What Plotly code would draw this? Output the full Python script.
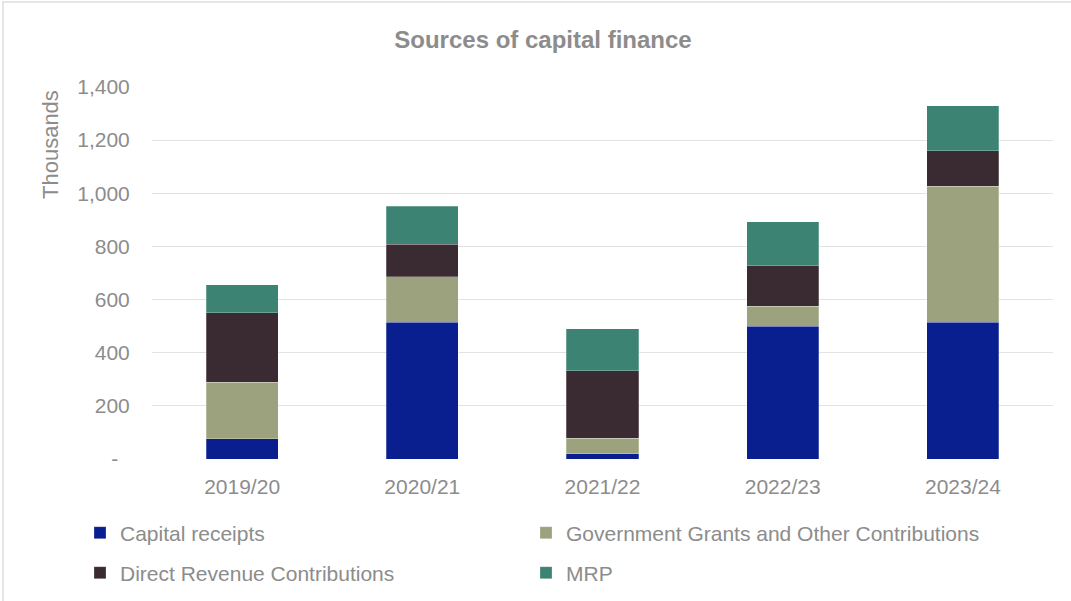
import plotly.graph_objects as go

years = ["2019/20", "2020/21", "2021/22", "2022/23", "2023/24"]
capital_receipts = [77, 515, 19, 500, 515]
government_grants = [211, 171, 60, 75, 511]
direct_revenue = [263, 122, 254, 152, 134]
mrp = [105, 144, 158, 165, 169]

series_names = ["Capital receipts", "Government Grants and Other Contributions",
                "Direct Revenue Contributions", "MRP"]
series_values = [capital_receipts, government_grants, direct_revenue, mrp]
colors = ["#0A1F8F", "#9CA27E", "#3A2A31", "#3D8373"]
legend_ids = ["legend", "legend2", "legend3", "legend4"]
legend_pos = [(80, 533), (526, 533), (80, 573), (526, 573)]

tick_vals = [0, 200, 400, 600, 800, 1000, 1200, 1400]
tick_text = ["-\u00a0\u00a0", "200", "400", "600", "800", "1,000", "1,200", "1,400"]

W, H = 1071, 601
L, R, T, B = 152, 18, 87, 142
PW, PH = W - L - R, H - T - B

def px(x):
    return (x - L) / PW

def py(y):
    return (H - B - y) / PH

FONT = "Liberation Sans"
GREY = "#8c8c8c"

fig = go.Figure()
for name, vals, col, lg in zip(series_names, series_values, colors, legend_ids):
    fig.add_trace(go.Bar(
        x=years, y=vals, name=name, legend=lg,
        marker=dict(color=col, line=dict(color="rgba(255,255,255,0.5)", width=0.5)),
    ))

legends = {}
for lg, (lx, ly) in zip(legend_ids, legend_pos):
    legends[lg] = dict(
        x=px(lx), y=py(ly),
        orientation="h", xanchor="left", yanchor="middle",
        font=dict(family=FONT, size=21, color=GREY),
        bgcolor="rgba(0,0,0,0)", itemclick=False,
    )

fig.update_layout(
    width=W, height=H,
    margin=dict(l=L, r=R, t=T, b=B, autoexpand=False),
    paper_bgcolor="white", plot_bgcolor="white",
    barmode="stack", bargap=0.6,
    showlegend=True,
    title=dict(text="<b>Sources of capital finance</b>", x=px(543), xref="paper",
               xanchor="center", y=1 - 40 / H, yanchor="middle",
               font=dict(family=FONT, size=24, color=GREY)),
    xaxis=dict(showgrid=False, showline=False, zeroline=False,
               ticks="outside", ticklen=9, tickcolor="rgba(0,0,0,0)",
               tickfont=dict(family=FONT, size=21, color=GREY)),
    yaxis=dict(range=[0, 1400], tickvals=tick_vals, ticktext=tick_text,
               showgrid=True, gridcolor="#e3e3e3", gridwidth=1,
               zeroline=False, showline=False,
               ticks="outside", ticklen=17, tickcolor="rgba(0,0,0,0)",
               tickfont=dict(family=FONT, size=21, color=GREY)),
    annotations=[dict(text="Thousands", textangle=-90, xref="paper", yref="paper",
                      x=px(50), y=py(145), xanchor="center", yanchor="middle",
                      showarrow=False, font=dict(family=FONT, size=22, color=GREY))],
    shapes=[dict(type="rect", xref="paper", yref="paper",
                 x0=px(3), x1=px(1085), y0=py(615), y1=py(2),
                 line=dict(color="#dedede", width=1.5), layer="below")],
    **legends,
)

fig.write_html("out.html", config={"displayModeBar": False},
               post_script="document.body.style.margin='0';document.body.style.overflow='hidden';")
